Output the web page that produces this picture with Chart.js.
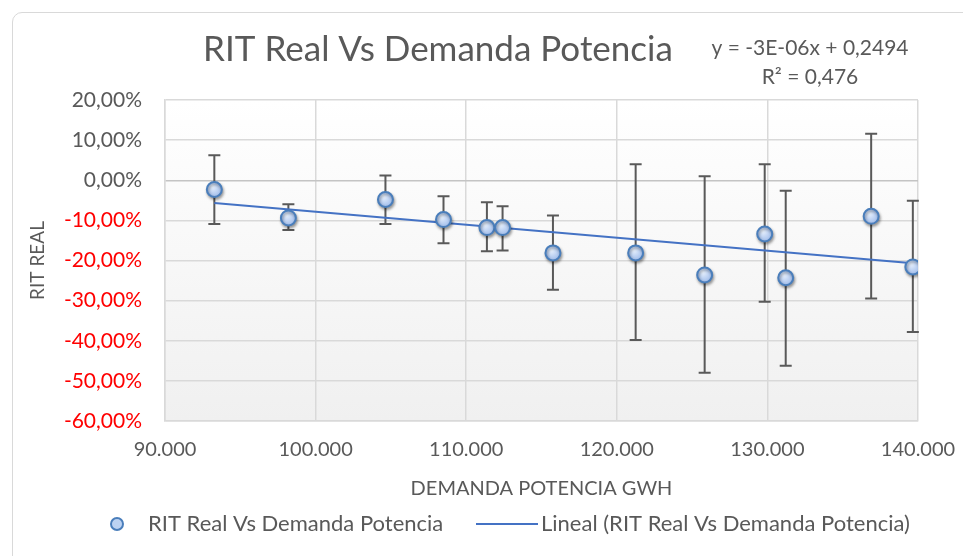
<!DOCTYPE html>
<html>
<head>
<meta charset="utf-8">
<script src="https://cdn.jsdelivr.net/npm/chart.js@4.4.0/dist/chart.umd.min.js"></script>
<style>
  html, body { margin: 0; padding: 0; background: #fff; overflow: hidden; }
  #marco { position: absolute; left: 12px; top: 12px; width: 1000px; height: 600px; border: 1px solid #d9d9d9; border-radius: 10px; }
  #wrap { position: absolute; left: 0; top: 0; width: 963px; height: 556px; }
</style>
</head>
<body>
<div id="marco"></div>
<div id="wrap"><canvas id="myChart" width="963" height="556"></canvas></div>
<script>
// DATOS
let demanda = [93276, 98193, 104638, 108493, 111375, 112415, 115760, 121252, 125834, 129821, 131216, 136890, 139657];
let ritReal = [-2.3, -9.4, -4.8, -9.8, -11.8, -11.8, -18.1, -18.1, -23.6, -13.4, -24.3, -9.0, -21.6];
let errAlto = [6.2, -6.0, 1.2, -4.0, -5.5, -6.5, -8.8, 4.0, 1.0, 4.0, -2.6, 11.6, -5.1];
let errBajo = [-10.9, -12.4, -10.9, -15.7, -17.7, -17.5, -27.3, -39.8, -48.0, -30.3, -46.2, -29.5, -37.8];

// linea de tendencia (extremos)
let tendX = [93276, 139657];
let tendY = [-5.65, -20.7];

let titulo = "RIT Real Vs Demanda Potencia";
let ecuacion = ["y = -3E-06x + 0,2494", "R² = 0,476"];
let leyenda = ["RIT Real Vs Demanda Potencia", "Lineal (RIT Real Vs Demanda Potencia)"];

const fuente = "Lato, 'Open Sans', sans-serif";
const gris = "#595959";

function formatoMiles(v) {
  let s = Math.round(v).toString();
  return s.replace(/\B(?=(\d{3})+(?!\d))/g, ".");
}

function formatoPct(v) {
  return v.toFixed(2).replace(".", ",") + "%";
}

//fondo del area del grafico
const fondoPlot = {
  id: "fondoPlot",
  beforeDraw(chart) {
    const { ctx, chartArea: a } = chart;
    const g = ctx.createLinearGradient(0, a.top, 0, a.bottom);
    g.addColorStop(0, "#ffffff");
    g.addColorStop(1, "#f0f0f0");
    ctx.save();
    ctx.fillStyle = g;
    ctx.fillRect(a.left, a.top, a.right - a.left, a.bottom - a.top);
    ctx.restore();
  },
};

//barras de error
const barrasError = {
  id: "barrasError",
  beforeDatasetsDraw(chart) {
    const { ctx } = chart;
    const x = chart.scales.x;
    const y = chart.scales.y;
    ctx.save();
    ctx.strokeStyle = "#595959";
    ctx.lineWidth = 2;
    demanda.forEach((d, i) => {
      const px = x.getPixelForValue(d);
      const y1 = y.getPixelForValue(errAlto[i]);
      const y2 = y.getPixelForValue(errBajo[i]);
      ctx.beginPath();
      ctx.moveTo(px, y1);
      ctx.lineTo(px, y2);
      ctx.moveTo(px - 6, y1);
      ctx.lineTo(px + 6, y1);
      ctx.moveTo(px - 6, y2);
      ctx.lineTo(px + 6, y2);
      ctx.stroke();
    });
    ctx.restore();
  },
  beforeDatasetDraw(chart, args) {
    if (args.index === 0) {
      chart.ctx.save();
      chart.ctx.shadowColor = "rgba(0,0,0,0.35)";
      chart.ctx.shadowBlur = 3;
      chart.ctx.shadowOffsetX = 1;
      chart.ctx.shadowOffsetY = 2;
    }
  },
  afterDatasetDraw(chart, args) {
    if (args.index === 0) chart.ctx.restore();
  },
};

//titulo, ecuacion y leyenda
const textos = {
  id: "textos",
  afterDraw(chart) {
    const ctx = chart.ctx;
    ctx.save();
    ctx.fillStyle = gris;
    ctx.textBaseline = "middle";
    ctx.textAlign = "center";
    ctx.font = "35px " + fuente;
    ctx.fillText(titulo, 438, 50);

    ctx.font = "21px " + fuente;
    ctx.fillText(ecuacion[0], 810, 48);
    ctx.fillText(ecuacion[1], 810, 77);

    // leyenda
    ctx.beginPath();
    ctx.arc(117, 524, 6, 0, Math.PI * 2);
    ctx.fillStyle = "#bcd2f2";
    ctx.fill();
    ctx.strokeStyle = "#4a7ebb";
    ctx.lineWidth = 2;
    ctx.stroke();

    ctx.fillStyle = gris;
    ctx.textAlign = "left";
    ctx.font = "22px " + fuente;
    ctx.fillText(leyenda[0], 148, 524);

    ctx.beginPath();
    ctx.moveTo(476, 524);
    ctx.lineTo(538, 524);
    ctx.strokeStyle = "#4472c4";
    ctx.stroke();
    ctx.fillText(leyenda[1], 541, 524);
    ctx.restore();
  },
};

function rellenoPunto(context) {
  const chart = context.chart;
  if (!context.raw || !chart.chartArea) return "#bcd2f2";
  const px = chart.scales.x.getPixelForValue(context.raw.x);
  const py = chart.scales.y.getPixelForValue(context.raw.y);
  const g = chart.ctx.createRadialGradient(px - 2, py - 3, 1, px, py, 8);
  g.addColorStop(0, "#e4eefc");
  g.addColorStop(1, "#9dbaea");
  return g;
}

new Chart("myChart", {
  type: "scatter",
  data: {
    datasets: [
      {
        label: leyenda[0],
        data: demanda.map((d, i) => ({ x: d, y: ritReal[i] })),
        backgroundColor: rellenoPunto,
        borderColor: "#4a7ebb",
        borderWidth: 2,
        pointRadius: 7.5,
        pointHoverRadius: 7.5,
        order: 0,
      },
      {
        label: leyenda[1],
        type: "line",
        data: tendX.map((d, i) => ({ x: d, y: tendY[i] })),
        borderColor: "#4472c4",
        borderWidth: 2,
        pointRadius: 0,
        fill: false,
        order: 1,
      },
    ],
  },
  options: {
    responsive: false,
    animation: false,
    layout: { padding: { left: 0, right: 45, top: 100, bottom: 35 } },
    plugins: {
      legend: { display: false },
      title: { display: false },
      tooltip: { enabled: false },
    },
    scales: {
      x: {
        type: "linear",
        min: 90000,
        max: 140000,
        afterFit: (scale) => {
          scale.height = 100;
          scale.paddingLeft = 0;
          scale.paddingRight = 0;
        },
        ticks: {
          stepSize: 10000,
          padding: 17,
          color: gris,
          font: { family: fuente, size: 20 },
          callback: (v) => formatoMiles(v),
        },
        grid: { color: "#d9d9d9", lineWidth: 1.5, drawTicks: false },
        border: { color: "#d9d9d9", width: 1.5 },
        title: {
          display: true,
          text: "DEMANDA POTENCIA GWH",
          color: gris,
          font: { family: fuente, size: 20 },
          padding: { top: 0, bottom: 20 },
        },
      },
      y: {
        min: -60,
        max: 20,
        afterFit: (scale) => {
          scale.width = 165;
          scale.paddingTop = 0;
          scale.paddingBottom = 0;
        },
        ticks: {
          stepSize: 10,
          padding: 23,
          color: (c) => (c.tick && c.tick.value < 0 ? "#ff0000" : gris),
          font: { family: fuente, size: 21 },
          callback: (v) => formatoPct(v),
        },
        grid: {
          color: (c) => (c.tick && c.tick.value === 0 ? "#c4c4c4" : "#d9d9d9"),
          lineWidth: 1.5,
          drawTicks: false,
        },
        border: { color: "#d9d9d9", width: 1.5 },
        title: {
          display: true,
          text: "RIT REAL",
          color: gris,
          font: { family: fuente, size: 19 },
          padding: { top: 26, bottom: 0 },
        },
      },
    },
  },
  plugins: [fondoPlot, barrasError, textos],
});
</script>
</body>
</html>
